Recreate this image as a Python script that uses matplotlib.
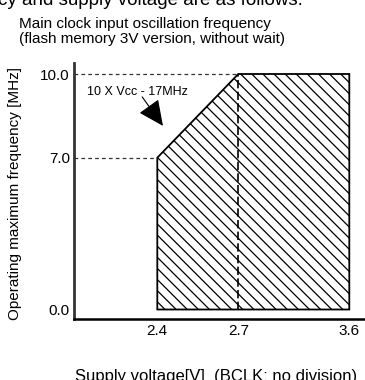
import numpy as np
import matplotlib.pyplot as plt
from matplotlib.patches import Polygon

plt.rcParams['font.family'] = ['Liberation Sans', 'DejaVu Sans']

# operating area corners (supply voltage [V], max frequency [MHz])
volt = [2.4, 2.4, 2.7, 3.6, 3.6]
freq = [0.0, 7.0, 10.0, 10.0, 0.0]

xticks = [2.4, 2.7, 3.6]
xticklabels = ['2.4', '2.7', '3.6']
yticks = [0.0, 7.0, 10.0]
yticklabels = ['0.0', '7.0', '10.0']

# the datasheet axes are not drawn to scale: piecewise mapping
xv = [0.0, 2.4, 2.7, 3.6, 10.0]
xp = [83.3 - 2.4 * 270, 83.3, 164.3, 275.3, 275.3 + 6.4 * 123]
yv = [-100.0, 0.0, 7.0, 100.0]
yp = [-100 * 19.0, 0.0, 151.8, 151.8 + 93 * 27.9]


def xf(v):
    return np.interp(v, xv, xp)


def xi(p):
    return np.interp(p, xp, xv)


def yf(v):
    return np.interp(v, yv, yp)


def yi(p):
    return np.interp(p, yp, yv)


fig = plt.figure(figsize=(3.65, 3.8), dpi=100)
ax = fig.add_axes([74 / 365, 1 - 319 / 380, 291 / 365, 256 / 380])
ax.set_xscale('function', functions=(xf, xi))
ax.set_yscale('function', functions=(yf, yi))
ax.set_xlim(xi(0), xi(291))
ax.set_ylim(yi(-9.5), yi(246.5))

# hatched operating region
plt.rcParams['hatch.linewidth'] = 0.9
poly = Polygon(list(zip(volt, freq)), closed=True, facecolor='white',
               edgecolor='black', hatch='\\\\\\', linewidth=1.3, zorder=2)
ax.add_patch(poly)

# guide lines
ax.plot([xi(0), volt[2]], [freq[2], freq[2]], ls=(0, (3, 2.5)), color='#333333', lw=0.9, zorder=3)
ax.plot([xi(0), volt[1]], [freq[1], freq[1]], ls=(0, (3, 2.5)), color='#333333', lw=0.9, zorder=3)
ax.plot([volt[2], volt[2]], [0, freq[2]], ls=(0, (5, 2)), color='black', lw=1.2, zorder=3)

# annotation
ax.text(2.326, 9.35, '10 X Vcc - 17MHz', fontsize=9, ha='center', va='center')
ax.annotate('', xy=(2.421, 8.14), xytext=(2.344, 9.18),
            arrowprops=dict(arrowstyle='-|>,head_length=1.6,head_width=0.75',
                            color='black', lw=0.8, shrinkA=0, shrinkB=0))

ax.set_xticks(xticks)
ax.set_xticklabels(xticklabels)
ax.set_yticks(yticks)
ax.set_yticklabels(yticklabels)
ax.tick_params(axis='both', length=0, labelsize=11)
ax.tick_params(axis='y', pad=3)
ax.tick_params(axis='x', pad=3.5)
ax.minorticks_off()

for s in ['top', 'right']:
    ax.spines[s].set_visible(False)
ax.spines['left'].set_color('#333333')
ax.spines['left'].set_linewidth(2)
ax.spines['bottom'].set_color('black')
ax.spines['bottom'].set_linewidth(1.8)

fig.text(15 / 365, 1 - 194 / 380, 'Operating maximum frequency [MHz]',
         rotation=90, ha='center', va='center', fontsize=11)
fig.text(216 / 365, 1 - 369 / 380, 'Supply voltage[V]  (BCLK: no division)',
         ha='center', va='top', fontsize=12)
fig.text(19 / 365, 1 - 31.5 / 380, 'Main clock input oscillation frequency\n(flash memory 3V version, without wait)',
         ha='left', va='center', fontsize=11, linespacing=1.1)
fig.text(-2 / 365, 1 - 5 / 380, 'cy and supply voltage are as follows.',
         ha='left', va='baseline', fontsize=13.5)

fig.savefig('out.png', dpi=100)
